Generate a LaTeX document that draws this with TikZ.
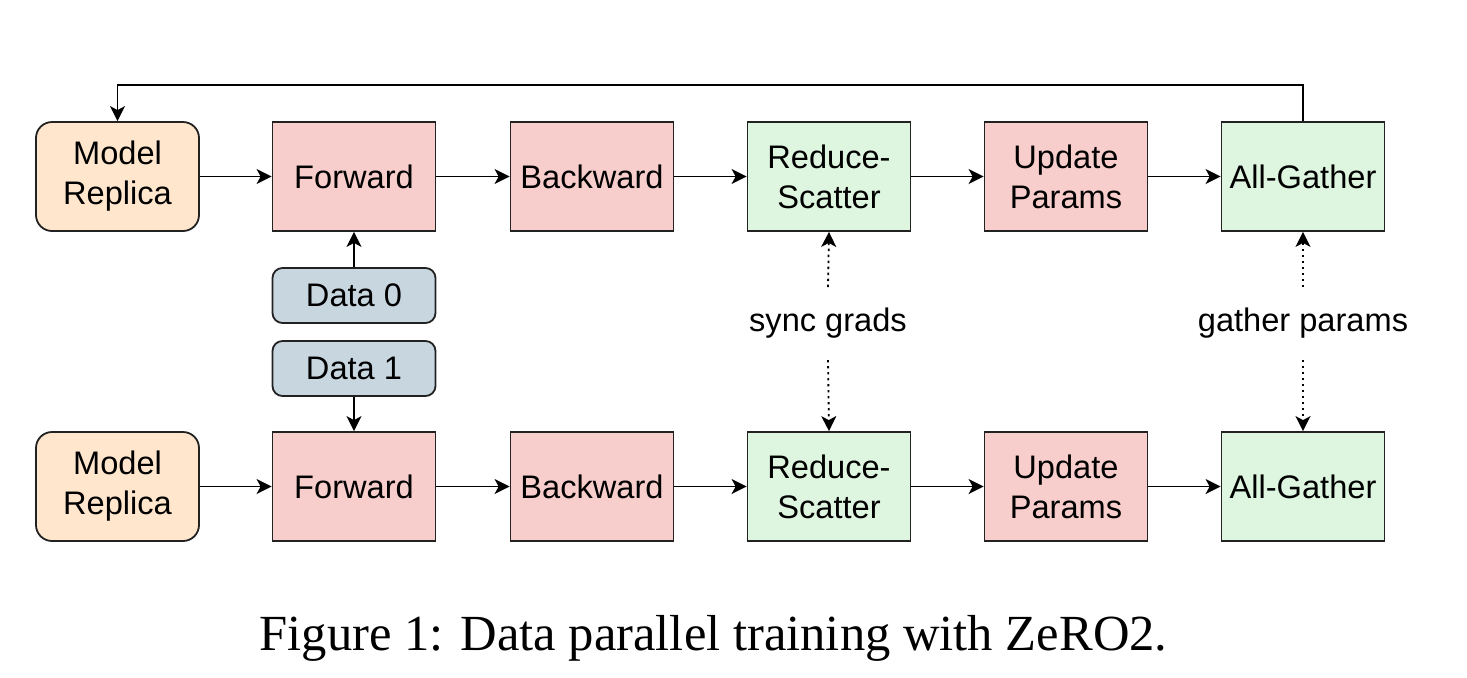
\documentclass[tikz,border=0pt]{standalone}
\usepackage{fontspec}
\setmainfont{Liberation Serif}
\setsansfont{Liberation Sans}
\usetikzlibrary{arrows.meta}
\definecolor{cpink}{HTML}{F8CECC}
\definecolor{corange}{HTML}{FFE6CC}
\definecolor{cgreen}{HTML}{DEF5DF}
\definecolor{cblue}{HTML}{C8D6E0}
\definecolor{cedge}{HTML}{222222}
\tikzset{
  box/.style={draw=cedge, line width=0.9pt, minimum width=81.5pt, minimum height=54.5pt,
    inner sep=0pt, align=center, font=\sffamily\fontsize{16.3}{20}\selectfont},
  pinkbox/.style={box, fill=cpink},
  greenbox/.style={box, fill=cgreen},
  modelbox/.style={box, fill=corange, rounded corners=8pt},
  databox/.style={box, fill=cblue, rounded corners=5pt, minimum height=27.5pt},
  lbl/.style={font=\sffamily\fontsize{16.3}{20}\selectfont, inner sep=0pt},
  conn/.style={-{Stealth[length=7.5pt,width=7.5pt,inset=2pt]}, line width=0.9pt, black},
  dotconn/.style={conn, dash pattern=on 1.2pt off 1.8pt},
}
\begin{document}
\begin{tikzpicture}[x=0.5pt,y=-0.5pt]
\useasboundingbox (0,0) rectangle (1467,677);
% top row
\node[modelbox] (m1) at (117.5,176.5) {Model\\Replica};
\node[pinkbox]  (f1) at (354,176.5) {Forward};
\node[pinkbox]  (b1) at (592,176.5) {Backward};
\node[greenbox] (r1) at (829,176.5) {Reduce-\\Scatter};
\node[pinkbox]  (u1) at (1066,176.5) {Update\\Params};
\node[greenbox] (a1) at (1303,176.5) {All-Gather};
% bottom row
\node[modelbox] (m2) at (117.5,486.5) {Model\\Replica};
\node[pinkbox]  (f2) at (354,486.5) {Forward};
\node[pinkbox]  (b2) at (592,486.5) {Backward};
\node[greenbox] (r2) at (829,486.5) {Reduce-\\Scatter};
\node[pinkbox]  (u2) at (1066,486.5) {Update\\Params};
\node[greenbox] (a2) at (1303,486.5) {All-Gather};
% data
\node[databox] (d0) at (354,295.5) {Data 0};
\node[databox] (d1) at (354,368.5) {Data 1};
% labels
\node[lbl] (sg) at (828,323) {sync grads};
\node[lbl] (gp) at (1303,323) {gather params};
\coordinate (sgt) at (828,287);
\coordinate (sgb) at (828,360);
\coordinate (gpt) at (1303,287);
\coordinate (gpb) at (1303,360);
\coordinate (topr) at (1303,85);
\coordinate (topl) at (117.5,85);
% connectors
\foreach \a/\b in {m1/f1,f1/b1,b1/r1,r1/u1,u1/a1,m2/f2,f2/b2,b2/r2,r2/u2,u2/a2}
  \draw[conn] (\a) -- (\b);
\draw[conn] (d0) -- (f1);
\draw[conn] (d1) -- (f2);
\draw[conn] (a1.north) -- (topr) -- (topl) -- (m1.north);
\draw[dotconn] (sgt) -- (r1.south);
\draw[dotconn] (sgb) -- (r2.north);
\draw[dotconn] (gpt) -- (a1.south);
\draw[dotconn] (gpb) -- (a2.north);
% caption
\node[font=\fontsize{25.3}{30}\selectfont, anchor=base, inner sep=0pt] (cap) at (713.5,650) {Figure 1: Data parallel training with ZeRO2.};
\end{tikzpicture}
\end{document}
